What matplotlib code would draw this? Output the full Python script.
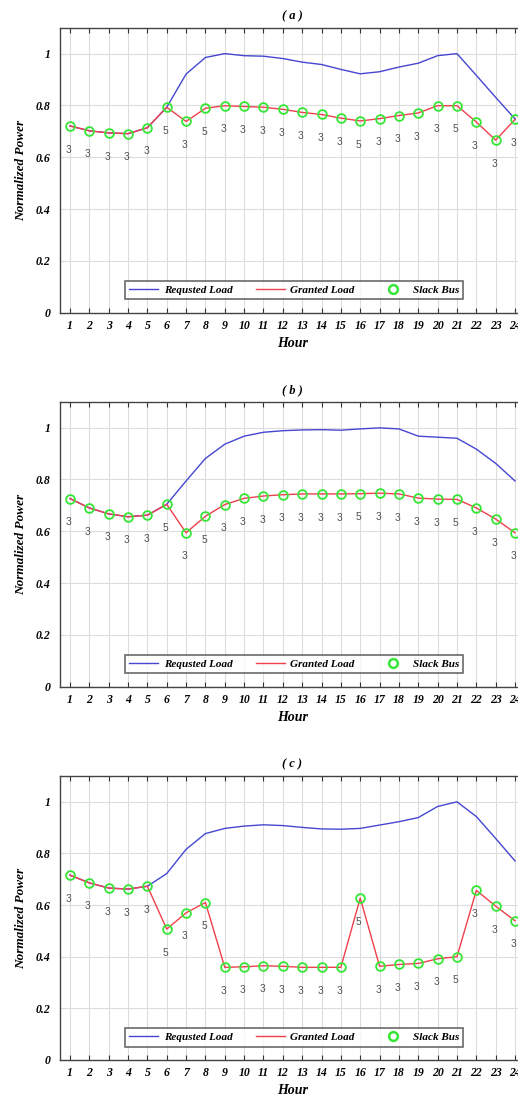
import matplotlib
matplotlib.use("Agg")
import matplotlib.pyplot as plt
from matplotlib.lines import Line2D

hours = list(range(1, 25))

req_a = [0.721, 0.702, 0.694, 0.691, 0.714, 0.793, 0.921, 0.985, 1.000, 0.992, 0.990, 0.981,
         0.967, 0.958, 0.939, 0.922, 0.930, 0.948, 0.963, 0.992, 1.000, 0.916, 0.831, 0.748]
gra_a = [0.721, 0.702, 0.694, 0.691, 0.714, 0.793, 0.738, 0.789, 0.799, 0.796, 0.793, 0.785,
         0.773, 0.765, 0.751, 0.740, 0.749, 0.761, 0.771, 0.799, 0.799, 0.736, 0.666, 0.746]
bus_a = [3, 3, 3, 3, 3, 5, 3, 5, 3, 3, 3, 3, 3, 3, 3, 5, 3, 3, 3, 3, 5, 3, 3, 3]

req_b = [0.726, 0.690, 0.667, 0.656, 0.662, 0.704, 0.794, 0.881, 0.936, 0.967, 0.982, 0.988,
         0.991, 0.992, 0.990, 0.995, 0.999, 0.995, 0.967, 0.963, 0.959, 0.917, 0.862, 0.794]
gra_b = [0.726, 0.690, 0.667, 0.656, 0.662, 0.704, 0.594, 0.658, 0.703, 0.727, 0.736, 0.741,
         0.744, 0.744, 0.744, 0.745, 0.747, 0.744, 0.728, 0.724, 0.723, 0.690, 0.647, 0.594]
bus_b = [3, 3, 3, 3, 3, 5, 3, 5, 3, 3, 3, 3, 3, 3, 3, 5, 3, 3, 3, 3, 5, 3, 3, 3]

req_c = [0.716, 0.686, 0.666, 0.662, 0.673, 0.722, 0.816, 0.877, 0.897, 0.906, 0.911, 0.908,
         0.901, 0.895, 0.894, 0.897, 0.910, 0.923, 0.939, 0.982, 1.000, 0.943, 0.858, 0.771]
gra_c = [0.716, 0.686, 0.666, 0.662, 0.673, 0.507, 0.570, 0.610, 0.359, 0.361, 0.365, 0.363,
         0.359, 0.359, 0.359, 0.627, 0.363, 0.370, 0.374, 0.392, 0.400, 0.657, 0.596, 0.539]
bus_c = [3, 3, 3, 3, 3, 5, 3, 5, 3, 3, 3, 3, 3, 3, 3, 5, 3, 3, 3, 3, 5, 3, 3, 3]

titles = ["( a )", "( b )", "( c )"]
yticks = [0, 0.2, 0.4, 0.6, 0.8, 1.0]
ytick_labels = ["0", "0.2", "0.4", "0.6", "0.8", "1"]
legend_labels = ["Requsted Load", "Granted Load", "Slack Bus"]

SERIF = "Liberation Serif"
W, H = 518, 1100
fig = plt.figure(figsize=(W / 100, H / 100), dpi=100)

# axes pixel geometry: (bottom px from top, height px)
panels = [(312.7, 285.0), (686.7, 285.0), (1060.0, 284.0)]
left_px = 60.3
width_px = 464.4

blue = "#4646d2"
red = "#f0404c"
green = "#36e636"

datasets = [(req_a, gra_a, bus_a), (req_b, gra_b, bus_b), (req_c, gra_c, bus_c)]

for i, ((bot, hgt), (req, gra, bus)) in enumerate(zip(panels, datasets)):
    ax = fig.add_axes([left_px / W, (H - bot) / H, width_px / W, hgt / H])
    ax.plot(hours, req, color=blue, lw=1.0, zorder=3)
    ax.plot(hours, gra, color=red, lw=1.0, zorder=4)
    ax.plot(hours, gra, ls="none", marker="o", ms=6.3, mfc="none", mec=green, mew=1.3, zorder=5)
    for h, g, b in zip(hours, gra, bus):
        ax.annotate(str(b), (h, g), xytext=(-1, -17), textcoords="offset points",
                    ha="center", va="center", fontsize=7.3, color="#505050",
                    family="Liberation Sans", zorder=6)
    ax.set_xlim(0.5, 24.5)
    ax.set_ylim(0, 1.1)
    ax.set_xticks(hours)
    ax.set_xticklabels([str(h) for h in hours])
    ax.set_yticks(yticks)
    ax.set_yticklabels(ytick_labels)
    ax.grid(True, color="#dcdcdc", lw=0.8, zorder=0)
    ax.set_axisbelow(True)
    ax.tick_params(axis="x", direction="in", length=3.5, width=0.8, top=True, bottom=True,
                   pad=5, color="#333333")
    ax.tick_params(axis="y", length=0, pad=7)
    for lab in ax.get_xticklabels() + ax.get_yticklabels():
        lab.set_fontfamily(SERIF)
        lab.set_fontstyle("italic")
        lab.set_fontweight("bold")
        lab.set_fontsize(8.5)
    for s in ["left", "bottom", "top"]:
        ax.spines[s].set_color("#444444")
        ax.spines[s].set_linewidth(1.0)
    ax.spines["right"].set_visible(False)
    ax.set_title(titles[i], family=SERIF, style="italic", weight="bold", fontsize=9, pad=6)
    ax.set_xlabel("Hour", family=SERIF, style="italic", weight="bold", fontsize=10, labelpad=4)
    ax.set_ylabel("Normalized Power", family=SERIF, style="italic", weight="bold",
                  fontsize=9.5, labelpad=6)

    handles = [Line2D([], [], color=blue, lw=1.0),
               Line2D([], [], color=red, lw=1.0),
               Line2D([], [], ls="none", marker="o", ms=6.3, mfc="none", mec=green, mew=1.8)]
    leg = ax.legend(handles, legend_labels, ncol=3, loc="lower left",
                    bbox_to_anchor=((125 - left_px) / width_px, 13.5 / hgt),
                    borderaxespad=0, frameon=True, fancybox=False,
                    handlelength=2.6, handletextpad=0.5, columnspacing=2.1,
                    borderpad=0.4,
                    prop={"family": SERIF, "style": "italic", "weight": "bold", "size": 8})
    leg.get_frame().set_edgecolor("#444444")
    leg.get_frame().set_linewidth(1.2)
    leg.set_zorder(7)

fig.savefig("out.png", dpi=100)
